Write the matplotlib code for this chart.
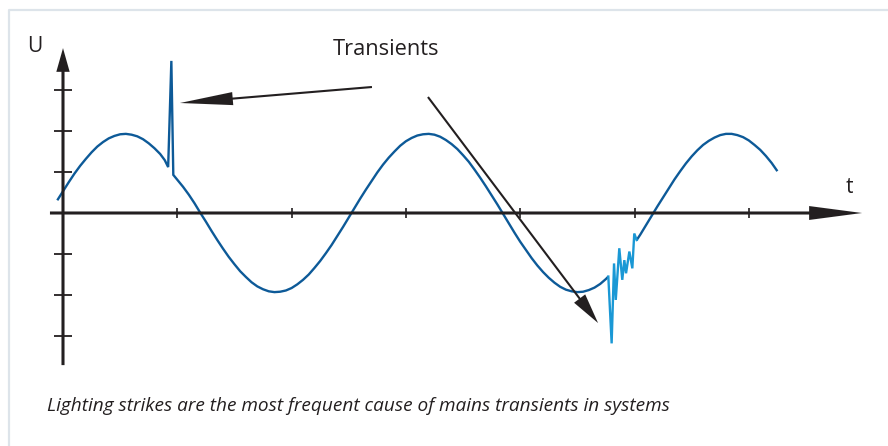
import matplotlib
matplotlib.use("Agg")
import matplotlib.pyplot as plt
from matplotlib.lines import Line2D

# ---------------- data (time and voltage in grid units) ----------------
wave_a_t = [-0.05, 0.00, 0.05, 0.10, 0.15, 0.20, 0.25, 0.30, 0.35, 0.40,
            0.45, 0.50, 0.55, 0.60, 0.65, 0.70, 0.75, 0.80, 0.85, 0.89,
            0.92, 0.948, 0.965,
            1.05, 1.10, 1.15, 1.20, 1.25, 1.30, 1.35, 1.40, 1.45, 1.50,
            1.55, 1.60, 1.65, 1.70, 1.75, 1.80, 1.85, 1.90, 1.95, 2.00,
            2.05, 2.10, 2.15, 2.20, 2.25, 2.30, 2.35, 2.40, 2.45, 2.50,
            2.55, 2.60, 2.65, 2.70, 2.75, 2.80, 2.85, 2.90, 2.95, 3.00,
            3.05, 3.10, 3.15, 3.20, 3.25, 3.30, 3.35, 3.40, 3.45, 3.50,
            3.55, 3.60, 3.65, 3.70, 3.75, 3.80, 3.85, 3.90, 3.95, 4.00,
            4.05, 4.10, 4.15, 4.20, 4.25, 4.30, 4.35, 4.40, 4.45, 4.50,
            4.55, 4.60, 4.65, 4.70, 4.75, 4.771]
wave_a_u = [0.31, 0.53, 0.75, 0.96, 1.15, 1.32, 1.48, 1.62, 1.73, 1.82,
            1.88, 1.92, 1.93, 1.91, 1.87, 1.80, 1.70, 1.58, 1.44, 1.29,
            1.12, 3.71, 0.93,
            0.64, 0.45, 0.24, 0.01, -0.21, -0.44, -0.66, -0.87, -1.07, -1.25,
            -1.42, -1.56, -1.69, -1.79, -1.86, -1.91, -1.93, -1.92, -1.89, -1.83,
            -1.74, -1.63, -1.50, -1.34, -1.17, -0.98, -0.78, -0.56, -0.34, -0.11,
            0.12, 0.35, 0.57, 0.78, 0.99, 1.18, 1.35, 1.50, 1.64, 1.75,
            1.83, 1.89, 1.92, 1.93, 1.91, 1.86, 1.78, 1.68, 1.56, 1.41,
            1.25, 1.06, 0.86, 0.65, 0.43, 0.21, -0.02, -0.25, -0.48, -0.70,
            -0.90, -1.10, -1.28, -1.44, -1.58, -1.70, -1.80, -1.87, -1.91, -1.93,
            -1.92, -1.88, -1.82, -1.73, -1.61, -1.55]

transient_t = [4.771, 4.800, 4.821, 4.836, 4.867, 4.893, 4.911, 4.926,
               4.955, 4.981, 4.998, 5.019]
transient_u = [-1.55, -3.18, -1.23, -2.12, -0.86, -1.63, -1.15, -1.47,
               -0.94, -1.35, -0.50, -0.66]

wave_b_t = [5.019, 5.05, 5.10, 5.15, 5.20, 5.25, 5.30, 5.35, 5.40, 5.45,
            5.50, 5.55, 5.60, 5.65, 5.70, 5.75, 5.80, 5.85, 5.90, 5.95,
            6.00, 6.05, 6.10, 6.15, 6.20, 6.25]
wave_b_u = [-0.66, -0.53, -0.30, -0.07, 0.16, 0.38, 0.60, 0.82, 1.02, 1.21,
            1.38, 1.53, 1.66, 1.76, 1.84, 1.90, 1.93, 1.93, 1.90, 1.85,
            1.77, 1.66, 1.54, 1.39, 1.22, 1.02]

x_ticks = [1, 2, 3, 4, 5, 6]
y_ticks = [-3, -2, -1, 1, 2, 3]

title_text = "Transients"
caption_text = "Lighting strikes are the most frequent cause of mains transients in systems"
x_label = "t"
y_label = "U"

# ---------------- styling ----------------
ink = "#231f20"
dark_blue = "#0d5a98"
light_blue = "#1a98d5"
frame_col = "#dde4ea"
plt.rcParams['font.family'] = ['Open Sans', 'DejaVu Sans']

W, H = 888, 446
fig = plt.figure(figsize=(W / 100, H / 100), dpi=100)
fig.patch.set_facecolor("white")
ax = fig.add_axes([0, 0, 1, 1])
ax.set_axis_off()

# pixel layout: origin at (63, 213); 114.3 px per t unit, 41 px per U unit
ox, oy, sx, sy = 63, 213, 114.3, 41.0
ax.set_xlim((0 - ox) / sx, (W - ox) / sx)
ax.set_ylim((oy - H) / sy, oy / sy)

# light frame (top & left)
fig.add_artist(Line2D([9 / W, 9 / W, 1.0], [0.0, 1 - 10 / H, 1 - 10 / H],
                      transform=fig.transFigure, color=frame_col, lw=1.6))


def arrow(tail, tip, head_len, head_w, lw):
    """Filled narrow arrow head exactly at tip, shaft ending inside the head."""
    ax.annotate("", xy=tip, xytext=tail,
                arrowprops=dict(arrowstyle=f"-|>,head_length={head_len},head_width={head_w}",
                                mutation_scale=1, lw=0.01, color=ink,
                                shrinkA=0, shrinkB=0), zorder=5)
    ax.annotate("", xy=tip, xytext=tail,
                arrowprops=dict(arrowstyle="-", lw=lw, color=ink,
                                shrinkA=0, shrinkB=head_len * 0.6,
                                capstyle="butt"), zorder=5)


# axes with arrowheads
arrow((0, -3.71), (0, 4.02), 17, 4.8, 2.2)
arrow((-0.114, 0), (6.99, 0), 38, 5.0, 2.2)

# ticks
ax.plot([0] * len(y_ticks), y_ticks, ls="none", marker="_", ms=13,
        mew=1.3, color=ink)
ax.plot(x_ticks, [0] * len(x_ticks), ls="none", marker="|", ms=7.5,
        mew=1.2, color=ink)

# waveform
ax.plot(wave_a_t, wave_a_u, color=dark_blue, lw=1.7, solid_joinstyle="miter",
        solid_capstyle="butt")
ax.plot(wave_b_t, wave_b_u, color=dark_blue, lw=1.7, solid_capstyle="butt")
ax.plot(transient_t, transient_u, color=light_blue, lw=1.7,
        solid_joinstyle="miter")

# pointer arrows
arrow((2.703, 3.073), (1.024, 2.683), 38, 4.7, 1.5)
arrow((3.193, 2.829), (4.681, -2.683), 22, 5.0, 1.5)

# texts
ax.text(-0.245, 4.05, y_label, ha="center", va="center", fontsize=15, color=ink)
ax.text(6.877, 0.488, x_label, ha="center", va="baseline", fontsize=15, color=ink)
ax.text(2.362, 3.854, title_text, ha="left", va="baseline", fontsize=15.7, color=ink)
ax.text(-0.14, -4.83, caption_text, ha="left", va="baseline", fontsize=13.7,
        style="italic", color=ink)

fig.savefig("out.png", dpi=100, facecolor="white")
